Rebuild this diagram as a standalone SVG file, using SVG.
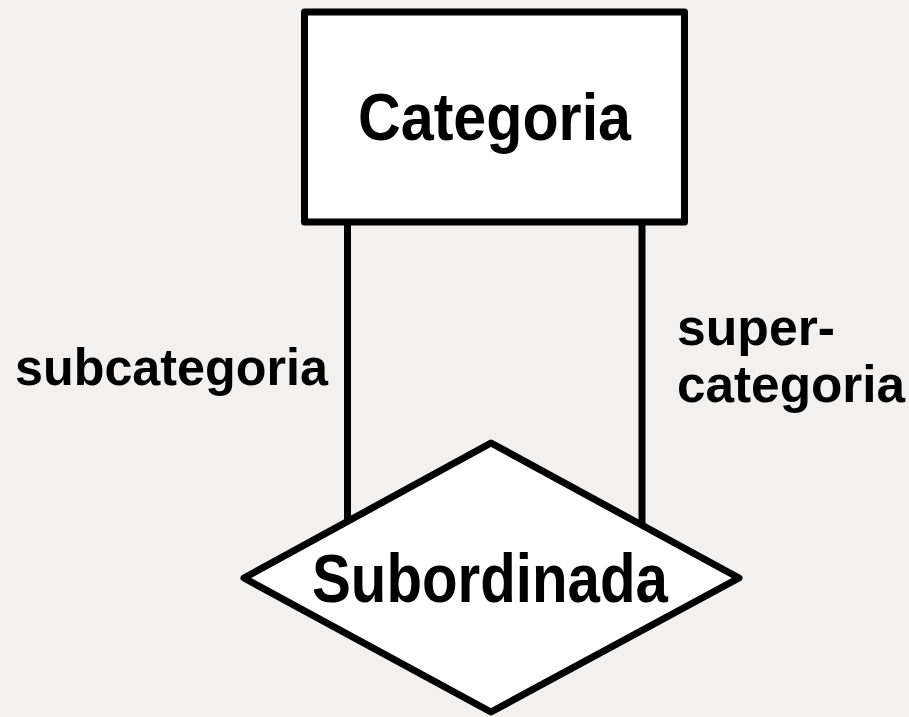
<svg xmlns="http://www.w3.org/2000/svg" width="909" height="717" viewBox="0 0 909 717">
<style>
.shape{fill:#ffffff;stroke:#000000;stroke-width:7;stroke-linejoin:round}
.conn{stroke:#000000;stroke-width:7;fill:none}
text{font-family:"Liberation Sans",Arial,sans-serif;font-weight:bold;fill:#000000}
.big{font-size:67px}
.lbl{font-size:52px}
</style>
<rect x="0" y="0" width="909" height="717" fill="#f2f1ef"/>
<g id="connectors">
<line class="conn" x1="347.5" y1="222" x2="347.5" y2="524"/>
<line class="conn" x1="642" y1="222" x2="642" y2="524"/>
</g>
<g id="categoria">
<rect class="shape" x="304.5" y="12" width="380" height="210"/>
<text class="big" x="358" y="140" textLength="273" lengthAdjust="spacingAndGlyphs">Categoria</text>
</g>
<g id="subordinada">
<polygon class="shape" points="244,578 491,443 739,578 491,712"/>
<text class="big" x="312" y="602" textLength="356" lengthAdjust="spacingAndGlyphs" style="font-size:69px">Subordinada</text>
</g>
<g id="labels">
<text class="lbl" x="15" y="385" textLength="313" lengthAdjust="spacingAndGlyphs">subcategoria</text>
<text class="lbl" x="677" y="345" textLength="158" lengthAdjust="spacingAndGlyphs">super-</text>
<text class="lbl" x="677" y="402" textLength="228" lengthAdjust="spacingAndGlyphs">categoria</text>
</g>
</svg>
